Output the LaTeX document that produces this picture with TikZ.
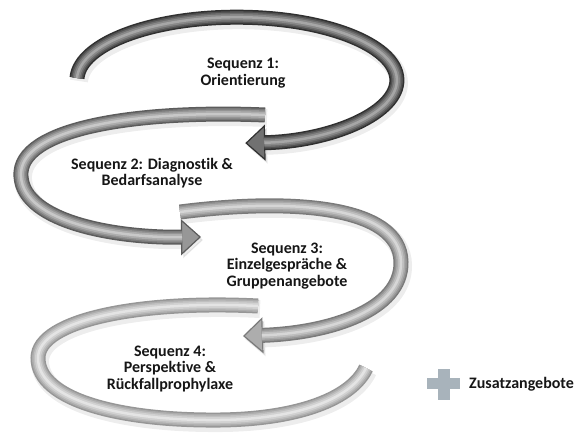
\documentclass[tikz,border=0pt]{standalone}
\usepackage{fontspec}
\setmainfont[Ligatures=NoCommon]{Carlito}
\usetikzlibrary{arrows.meta}
\definecolor{eA}{HTML}{303030}\definecolor{hA}{HTML}{A6A6A6}
\definecolor{eB}{HTML}{5C5C5C}\definecolor{hB}{HTML}{C8C8C8}
\definecolor{eC}{HTML}{7A7A7A}\definecolor{hC}{HTML}{D6D6D6}
\definecolor{eD}{HTML}{969696}\definecolor{hD}{HTML}{E4E4E4}
\definecolor{pluscol}{HTML}{A8B3BB}
\definecolor{txt}{HTML}{161616}
\tikzset{
  lbl/.style={font=\bfseries\fontsize{16}{16.5}\selectfont, align=center, text=txt, inner sep=0pt},
  shadowband/.style={line width=18pt, draw=black, opacity=0.07, transform canvas={shift={(2pt,-3pt)}}},
  headtip/.style={-{Triangle[length=20pt,width=36pt,fill=#1,line width=1.2pt]}},
}
\newcommand\headband[3]{%
  \draw[shadowband, headtip=black] #1;
  \draw[line width=15pt, draw=#2, headtip={#2!45!#3}] #1;
  \draw[line width=12pt, draw={#2!72!#3}, shorten >=19pt] #1;
  \draw[line width=9pt, draw={#2!48!#3}, shorten >=19pt] #1;
  \draw[line width=6pt, draw={#2!25!#3}, shorten >=19pt] #1;
  \draw[line width=2.5pt, draw=#3, shorten >=19pt] #1;
}
\newcommand\plainband[3]{%
  \draw[shadowband] #1;
  \draw[line width=15pt, draw=#2] #1;
  \draw[line width=12pt, draw={#2!72!#3}] #1;
  \draw[line width=9pt, draw={#2!48!#3}] #1;
  \draw[line width=6pt, draw={#2!25!#3}] #1;
  \draw[line width=2.5pt, draw=#3] #1;
}
\begin{document}
\begin{tikzpicture}[x=1pt,y=-1pt]
\fill[white] (0,0) rectangle (580,436);
\useasboundingbox (0,0) rectangle (580,436);
% arrow 4
\plainband{(258,306) .. controls (140,300) and (38,320) .. (38,358) .. controls (38,400) and (120,421) .. (220,420) .. controls (300,419) and (352,398) .. (366,368)}{eD}{hD}
% arrow 3
\headband{(180,212) .. controls (290,198) and (400,205) .. (401,262) .. controls (402,310) and (330,333) .. (243,336)}{eC}{hC}
% arrow 2
\headband{(265,115) .. controls (150,110) and (25,125) .. (21,172) .. controls (18,220) and (110,238) .. (201,237)}{eB}{hB}
% arrow 1
\headband{(77,78) arc[start angle=-178, end angle=87, x radius=160, y radius=63]}{eA}{hA}
% labels
\node[lbl] (s1) at (243,73) {Sequenz 1:\\Orientierung};
\node[lbl] (s2) at (152,173) {Sequenz 2: Diagnostik \&\\Bedarfsanalyse};
\node[lbl] (s3) at (287,266) {Sequenz 3:\\Einzelgespräche \&\\Gruppenangebote};
\node[lbl] (s4) at (170,369) {Sequenz 4:\\Perspektive \&\\Rückfallprophylaxe};
% legend
\fill[pluscol] (438,369) rectangle (450,400);
\fill[pluscol] (427,378) rectangle (460,389);
\node[lbl, anchor=west] (zus) at (469,384) {Zusatzangebote};
\end{tikzpicture}
\end{document}
